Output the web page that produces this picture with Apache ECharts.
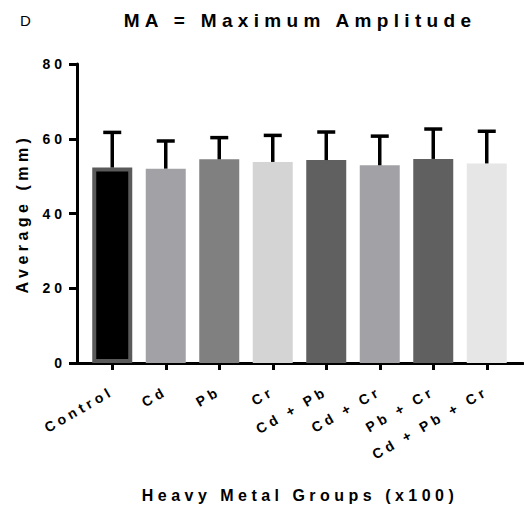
<!DOCTYPE html>
<html>
<head>
<meta charset="utf-8">
<script src="https://cdn.jsdelivr.net/npm/echarts@6/dist/echarts.min.js"></script>
<style>
  html, body { margin: 0; padding: 0; background: #fff; }
  #chart { width: 524px; height: 511px; }
  /* wide tracking like the original figure */
  #chart text { letter-spacing: 0.28em; }
</style>
</head>
<body>
<div id="chart"></div>
<script>
const groups = ['Control', 'Cd', 'Pb', 'Cr', 'Cd + Pb', 'Cd + Cr', 'Pb + Cr', 'Cd + Pb + Cr']
const means = [52.3, 52.0, 54.5, 53.8, 54.3, 52.9, 54.6, 53.4]
const sds = [9.4, 7.4, 5.8, 7.1, 7.5, 7.8, 8.0, 8.6]
const barColors = ['#000000', '#a2a2a6', '#808080', '#d4d4d4', '#606060', '#a2a2a6', '#606060', '#e6e6e6']
const yMin = 0, yMax = 80, yStep = 20

const font = 'Liberation Sans, Arial, sans-serif'

const chart = echarts.init(document.getElementById('chart'), null, { renderer: 'svg' })

chart.setOption({
  backgroundColor: '#ffffff',
  animation: false,
  title: [
    { text: 'D', left: 15, top: 8, textStyle: { fontFamily: font, fontSize: 15, fontWeight: 'normal', color: '#000' } },
    { text: 'MA = Maximum Amplitude', left: 295, top: 6, textAlign: 'center',
      textStyle: { fontFamily: font, fontSize: 19, fontWeight: 'bold', color: '#000' } }
  ],
  grid: [
    { left: 85.5, right: 10.5, top: 64, bottom: 148 },   // bars
    { left: 77, right: 1, top: 64, bottom: 148 }         // long x axis line
  ],
  xAxis: [
    {
      gridIndex: 0,
      type: 'category',
      data: groups,
      axisLine: { show: false },
      axisTick: { show: true, alignWithLabel: true, length: 7, lineStyle: { color: '#000', width: 3 } },
      axisLabel: {
        interval: 0, rotate: 30, margin: 27, color: '#000',
        fontFamily: font, fontSize: 14, fontWeight: 'bold'
      }
    },
    {
      gridIndex: 1,
      type: 'value',
      min: 0, max: 1,
      axisLine: { show: true, lineStyle: { color: '#000', width: 3 } },
      axisTick: { show: false },
      axisLabel: { show: false },
      splitLine: { show: false },
      name: 'Heavy Metal Groups (x100)',
      nameLocation: 'middle',
      nameGap: 124,
      nameTextStyle: { fontFamily: font, fontSize: 16, fontWeight: 'bold', color: '#000' }
    }
  ],
  yAxis: [
    {
      gridIndex: 0,
      type: 'value',
      min: yMin, max: yMax, interval: yStep,
      offset: 8.5,
      axisLine: { show: true, lineStyle: { color: '#000', width: 3 } },
      axisTick: { show: true, length: 8, lineStyle: { color: '#000', width: 3 } },
      axisLabel: { margin: 11, color: '#000', fontFamily: font, fontSize: 14, fontWeight: 'bold' },
      splitLine: { show: false },
      name: 'Average (mm)',
      nameLocation: 'middle',
      nameGap: 47,
      nameTextStyle: { fontFamily: font, fontSize: 16, fontWeight: 'bold', color: '#000' }
    },
    { gridIndex: 1, type: 'value', min: 0, max: 1, show: false }
  ],
  series: [
    {
      type: 'bar',
      xAxisIndex: 0,
      yAxisIndex: 0,
      barWidth: 40,
      data: means.map((v, i) => ({
        value: v,
        itemStyle: i === 0
          ? { color: barColors[i], borderColor: '#5a5a5a', borderWidth: 4 }
          : { color: barColors[i] }
      }))
    },
    {
      type: 'custom',
      xAxisIndex: 0,
      yAxisIndex: 0,
      z: 5,
      data: means.map((v, i) => [i, v, v + sds[i]]),
      renderItem(params, api) {
        const base = api.coord([api.value(0), api.value(1)])
        const top = api.coord([api.value(0), api.value(2)])
        const st = { stroke: '#000', lineWidth: 3.5 }
        return {
          type: 'group',
          children: [
            { type: 'line', shape: { x1: base[0], y1: base[1], x2: base[0], y2: top[1] }, style: st },
            { type: 'line', shape: { x1: base[0] - 9, y1: top[1], x2: base[0] + 9, y2: top[1] }, style: st }
          ]
        }
      }
    }
  ]
})
</script>
</body>
</html>
